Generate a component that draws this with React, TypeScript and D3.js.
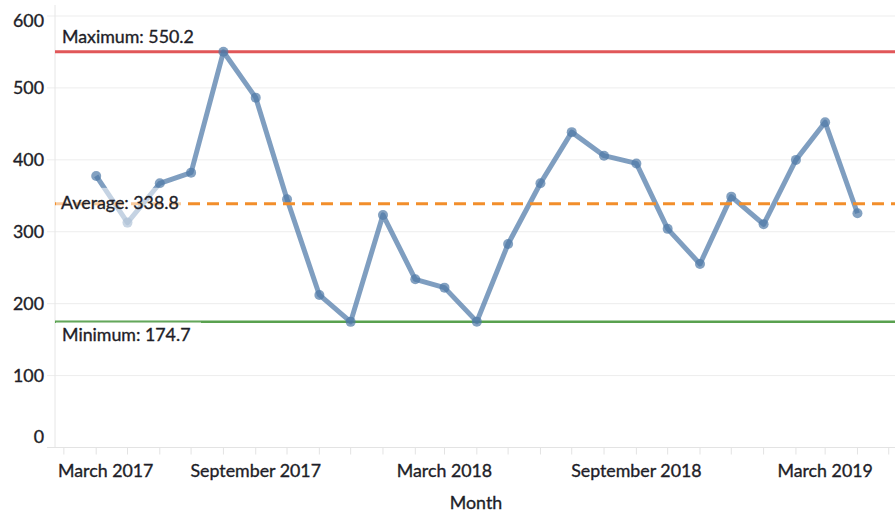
import React from "react";
import * as d3 from "d3";

const months: string[] = [
  "2017-04-01", "2017-05-01", "2017-06-01", "2017-07-01", "2017-08-01",
  "2017-09-01", "2017-10-01", "2017-11-01", "2017-12-01", "2018-01-01",
  "2018-02-01", "2018-03-01", "2018-04-01", "2018-05-01", "2018-06-01",
  "2018-07-01", "2018-08-01", "2018-09-01", "2018-10-01", "2018-11-01",
  "2018-12-01", "2019-01-01", "2019-02-01", "2019-03-01", "2019-04-01",
];
const values: number[] = [
  377.6, 312.7, 367.4, 382.2, 550.2,
  486.5, 345.2, 212.1, 174.7, 323.4,
  233.9, 222.3, 175.0, 283.0, 367.5,
  438.5, 405.8, 395.0, 304.0, 255.2,
  348.8, 310.4, 399.9, 452.3, 325.7,
];
const refNames: string[] = ["Maximum", "Average", "Minimum"];
const refValues: number[] = [550.2, 338.8, 174.7];
const refColors: string[] = ["#E15759", "#F28E2B", "#59A14F"];
const yTicks: number[] = [0, 100, 200, 300, 400, 500, 600];
const xLabelDates: string[] = ["2017-03-01", "2017-09-01", "2018-03-01", "2018-09-01", "2019-03-01"];
const xLabels: string[] = ["March 2017", "September 2017", "March 2018", "September 2018", "March 2019"];
const xAxisTitle = "Month";

const W = 895;
const H = 512;
const left = 55;
const right = 895;
const top = 16;
const bottom = 447.5;
const FONT = "Lato, 'Open Sans', sans-serif";
const TEXT = "#1e1e28";
const FS = 17.8;

export default function App() {
  const x = d3
    .scaleUtc()
    .domain([new Date("2017-02-20T12:00:00Z"), new Date("2019-05-07T00:00:00Z")])
    .range([left, right]);
  const y = d3.scaleLinear().domain([0, 600]).range([bottom, top]);

  const pts = months.map((m, i) => ({ d: new Date(m + "T00:00:00Z"), v: values[i] }));
  const line = d3
    .line<{ d: Date; v: number }>()
    .x((p) => x(p.d))
    .y((p) => y(p.v));

  const monthTicks = d3.utcMonth.range(new Date("2017-03-01T00:00:00Z"), new Date("2019-05-02T00:00:00Z"));

  const blue = "#4E79A7";
  const textProps = { fontSize: FS, fill: TEXT, stroke: TEXT, strokeWidth: 0.35 };
  const yMin = d3.min(yTicks) as number;
  const yMax = d3.max(yTicks) as number;

  return (
    <svg
      width={W}
      height={H}
      style={{ position: "absolute", left: 0, top: 0, background: "#fff" }}
      fontFamily={FONT}
    >
      {/* gridlines */}
      {yTicks.map((t) => (
        <line key={"g" + t} x1={47} x2={right} y1={y(t)} y2={y(t)} stroke="#ededed" strokeWidth={1} />
      ))}
      {/* y axis line */}
      <line x1={left} x2={left} y1={5} y2={bottom} stroke="#e6e6e6" strokeWidth={1} />
      {/* x axis */}
      <line x1={47} x2={right} y1={bottom} y2={bottom} stroke="#e3e3e3" strokeWidth={1} />
      {monthTicks.map((t, i) => (
        <line key={"t" + i} x1={x(t)} x2={x(t)} y1={bottom} y2={bottom + 7} stroke="#e3e3e3" strokeWidth={1} />
      ))}
      {/* y tick labels (end labels kept inside the plot range) */}
      {yTicks.map((t) => (
        <text
          key={"yl" + t}
          x={44}
          y={y(t) + (t === yMin ? -5 : t === yMax ? 11 : 6)}
          textAnchor="end"
          {...textProps}
        >
          {t}
        </text>
      ))}
      {/* x tick labels */}
      {xLabels.map((l, i) => (
        <text
          key={"xl" + i}
          x={i === 0 ? 58 : x(new Date(xLabelDates[i] + "T00:00:00Z"))}
          y={477}
          textAnchor={i === 0 ? "start" : "middle"}
          {...textProps}
        >
          {l}
        </text>
      ))}
      <text x={476} y={509} textAnchor="middle" {...textProps}>
        {xAxisTitle}
      </text>

      {/* max & min reference lines */}
      <line x1={left} x2={right} y1={y(refValues[0])} y2={y(refValues[0])} stroke={refColors[0]} strokeWidth={3} />
      <line x1={left} x2={right} y1={y(refValues[2])} y2={y(refValues[2])} stroke={refColors[2]} strokeWidth={2.5} />

      {/* data */}
      <g opacity={0.72}>
        <path d={line(pts) || ""} fill="none" stroke={blue} strokeWidth={5} strokeLinejoin="round" />
      </g>
      {pts.map((p, i) => (
        <circle key={"c" + i} cx={x(p.d)} cy={y(p.v)} r={5} fill={blue} opacity={0.7} />
      ))}

      {/* average line */}
      <line
        x1={left}
        x2={right}
        y1={y(refValues[1])}
        y2={y(refValues[1])}
        stroke={refColors[1]}
        strokeWidth={3}
        strokeDasharray="12,7"
      />

      {/* labels */}
      <text x={62} y={y(refValues[0]) - 9} {...textProps}>
        {`${refNames[0]}: ${refValues[0]}`}
      </text>
      <rect x={left + 1} y={y(refValues[1]) - 16} width={125} height={40} fill="#fff" opacity={0.55} />
      <text x={61} y={y(refValues[1]) + 5.5} {...textProps}>
        {`${refNames[1]}: ${refValues[1]}`}
      </text>
      <rect x={left + 1} y={y(refValues[2])} width={145} height={26} fill="#fff" opacity={0.5} />
      <text x={62} y={y(refValues[2]) + 19} {...textProps}>
        {`${refNames[2]}: ${refValues[2]}`}
      </text>
    </svg>
  );
}
